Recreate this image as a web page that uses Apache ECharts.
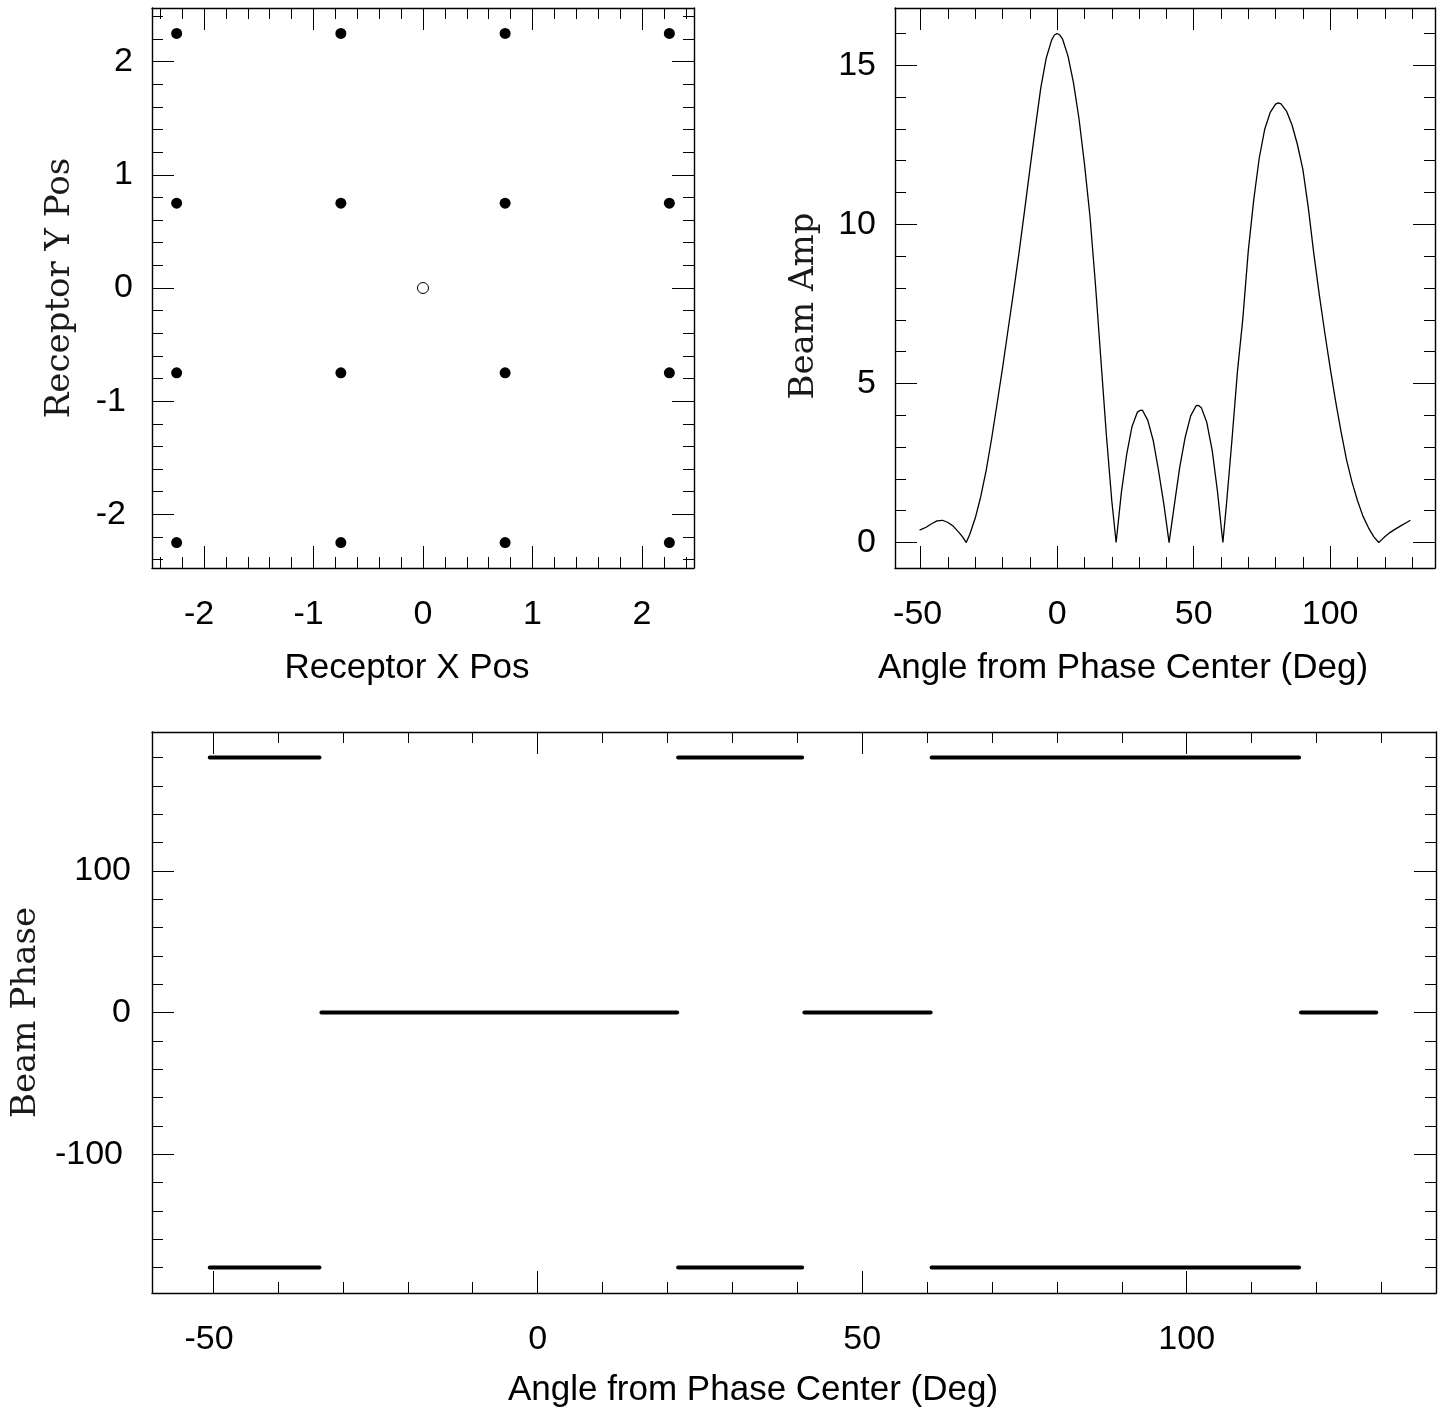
<!DOCTYPE html>
<html>
<head>
<meta charset="utf-8">
<script src="https://cdn.jsdelivr.net/npm/echarts@6/dist/echarts.min.js"></script>
<style>
html,body{margin:0;padding:0;background:#fff;}
#chart{width:1447px;height:1409px;}
</style>
</head>
<body>
<div id="chart"></div>
<script>
// ---------- data ----------
// receptor positions (filled dots)
const receptorX = [-2.25,-0.75,0.75,2.25, -2.25,-0.75,0.75,2.25, -2.25,-0.75,0.75,2.25, -2.25,-0.75,0.75,2.25];
const receptorY = [ 2.25, 2.25,2.25,2.25,  0.75, 0.75,0.75,0.75, -0.75,-0.75,-0.75,-0.75, -2.25,-2.25,-2.25,-2.25];
// phase centre (open circle)
const centerX = [0];
const centerY = [0];

// beam amplitude vs angle
const ampAngle = [-50.4,-48,-46,-44,-42,-40,-38,-36,-34.5,-33.3,-32,-30,-28,-26,-24,-22,-20,-18,-16,-14,-12,-10,-8,-6,-4,-2,-1,0,1,2,4,6,8,10,12,14,16,18,20,21.6,
  23.5,25.5,27.4,29.4,30.5,31.3,33.2,35.2,37.1,39.1,41.0,43.0,44.9,46.9,48.9,50.9,51.8,52.8,54.8,56.8,58.7,60.7,
  62,64,66,68,70,72,74,76,78,80,81,82,84,86,88,90,92,94,96,98,100,102,104,106,108,110,112,114,116,117.8,119,120,122,124,126,128,129.4];
const ampValue = [0.39,0.48,0.59,0.68,0.70,0.63,0.51,0.32,0.16,0,0.26,0.77,1.44,2.27,3.27,4.37,5.49,6.68,7.86,9.09,10.39,11.73,13.03,14.29,15.23,15.80,15.95,16.0,15.95,15.82,15.28,14.44,13.32,11.90,10.27,8.14,5.77,3.41,1.32,0,
  1.56,2.79,3.64,4.10,4.16,4.15,3.84,3.20,2.28,1.19,0,1.23,2.37,3.31,3.98,4.30,4.31,4.24,3.78,2.89,1.62,0,
  1.19,3.20,5.34,7.03,9.16,10.77,12.07,12.98,13.51,13.78,13.82,13.79,13.56,13.13,12.51,11.73,10.52,9.09,7.80,6.61,5.49,4.44,3.48,2.60,1.90,1.32,0.83,0.47,0.18,0,0.10,0.18,0.32,0.43,0.53,0.63,0.70];

// beam phase: runs of constant phase (deg); wrapped runs sit at +180 and -180
const phaseStart = [-50.5,-33.3,21.65,41.1,60.7,117.6];
const phaseEnd   = [-33.6,21.5,40.75,60.55,117.3,129.2];
const phaseValue = [180,0,180,0,180,0];
const phaseAlt   = [-180,null,-180,null,-180,null];

// axis settings
const recRange = [-2.475, 2.475];
const angRange = [-59.4, 138.4];
const ampRange = [-0.8, 16.8];
const phsRange = [-198, 198];

// ---------- chart ----------
const SANS = '"Liberation Sans", Helvetica, Arial, sans-serif';
const SERIF = '"DejaVu Serif", serif';

function baseAxis(range, interval, pos, opts) {
  return Object.assign({
    type: 'value',
    position: pos,
    min: range[0], max: range[1],
    minInterval: interval, maxInterval: interval,
    axisLine: {show: true, onZero: false, lineStyle: {color: '#000', width: 1.4}},
    axisTick: {show: true, inside: true, length: 22, lineStyle: {color: '#000', width: 1}},
    minorTick: {show: true, splitNumber: 5, length: 11, lineStyle: {color: '#000', width: 1}},
    splitLine: {show: false},
    minorSplitLine: {show: false},
    axisLabel: {show: false}
  }, opts || {});
}
function lab(margin, negPad, vertical) {
  return {
    show: true, margin: margin, color: '#000', fontSize: 34, fontFamily: SANS,
    showMinLabel: false, showMaxLabel: false,
    formatter: function (v) { return v < 0 ? '{n|' + v + '}' : '{p|' + v + '}'; },
    rich: {
      n: {fontSize: 34, fontFamily: SANS, color: '#000', padding: vertical ? [0, negPad, 0, 0] : [0, negPad, 0, 0]},
      p: {fontSize: 34, fontFamily: SANS, color: '#000'}
    }
  };
}
function xName(text, gap, shift) {
  return {name: text, nameLocation: 'middle', nameGap: gap,
    nameTextStyle: {fontSize: 35, fontFamily: SANS, color: '#000', padding: [0, shift * 2, 0, 0]}};
}
function yName(text, gap, shiftDown) {
  return {name: text, nameLocation: 'middle', nameGap: gap, nameRotate: 90,
    nameTextStyle: {fontSize: 34, fontFamily: SERIF, color: '#1a1a1a', padding: [0, shiftDown * 2, 0, 0]}};
}

const grids = [
  {left: 152, top: 8, width: 542, height: 560},
  {left: 895, top: 8, width: 540, height: 560},
  {left: 152, top: 732, width: 1284, height: 561}
];

const xAxes = [
  baseAxis(recRange, 1, 'bottom', Object.assign({gridIndex: 0, axisLabel: lab(30, 10, false)}, xName('Receptor X Pos', 83, 16))),
  baseAxis(recRange, 1, 'top', {gridIndex: 0}),
  baseAxis(angRange, 50, 'bottom', Object.assign({gridIndex: 1, axisLabel: lab(30, 6, false)}, xName('Angle from Phase Center (Deg)', 83, 42))),
  baseAxis(angRange, 50, 'top', {gridIndex: 1}),
  baseAxis(angRange, 50, 'bottom', Object.assign({gridIndex: 2, axisLabel: lab(30, 8, false)}, xName('Angle from Phase Center (Deg)', 80, 41))),
  baseAxis(angRange, 50, 'top', {gridIndex: 2})
];
const yAxes = [
  baseAxis(recRange, 1, 'left', Object.assign({gridIndex: 0, axisLabel: lab(19, 7, true)}, yName('Receptor Y Pos', 75, 0))),
  baseAxis(recRange, 1, 'right', {gridIndex: 0}),
  baseAxis(ampRange, 5, 'left', Object.assign({gridIndex: 1, axisLabel: lab(19, 0, true)}, yName('Beam Amp', 74, 18))),
  baseAxis(ampRange, 5, 'right', {gridIndex: 1}),
  baseAxis(phsRange, 100, 'left', Object.assign({gridIndex: 2, axisLabel: lab(21, 8, true)}, yName('Beam Phase', 109, 0))),
  baseAxis(phsRange, 100, 'right', {gridIndex: 2})
];

const series = [
  {type: 'scatter', xAxisIndex: 0, yAxisIndex: 0, symbol: 'circle', symbolSize: 11,
   itemStyle: {color: '#000', opacity: 1}, data: receptorX.map((x, i) => [x, receptorY[i]])},
  {type: 'scatter', xAxisIndex: 0, yAxisIndex: 0, symbol: 'circle', symbolSize: 11,
   itemStyle: {color: '#fff', borderColor: '#000', borderWidth: 1, opacity: 1}, data: centerX.map((x, i) => [x, centerY[i]])},
  {type: 'line', xAxisIndex: 2, yAxisIndex: 2, showSymbol: false, symbol: 'none', smooth: false,
   lineStyle: {color: '#000', width: 1.3}, data: ampAngle.map((a, i) => [a, ampValue[i]])}
];
phaseStart.forEach((s, i) => {
  series.push({type: 'line', xAxisIndex: 4, yAxisIndex: 4, symbol: 'none',
    lineStyle: {color: '#000', width: 4, cap: 'round'},
    data: [[s, phaseValue[i]], [phaseEnd[i], phaseValue[i]]]});
  if (phaseAlt[i] !== null) {
    series.push({type: 'line', xAxisIndex: 4, yAxisIndex: 4, symbol: 'none',
      lineStyle: {color: '#000', width: 4, cap: 'round'},
      data: [[s, phaseAlt[i]], [phaseEnd[i], phaseAlt[i]]]});
  }
});

const chart = echarts.init(document.getElementById('chart'), null, {renderer: 'canvas'});
chart.setOption({
  animation: false,
  backgroundColor: '#fff',
  grid: grids,
  xAxis: xAxes,
  yAxis: yAxes,
  series: series
});
</script>
</body>
</html>
